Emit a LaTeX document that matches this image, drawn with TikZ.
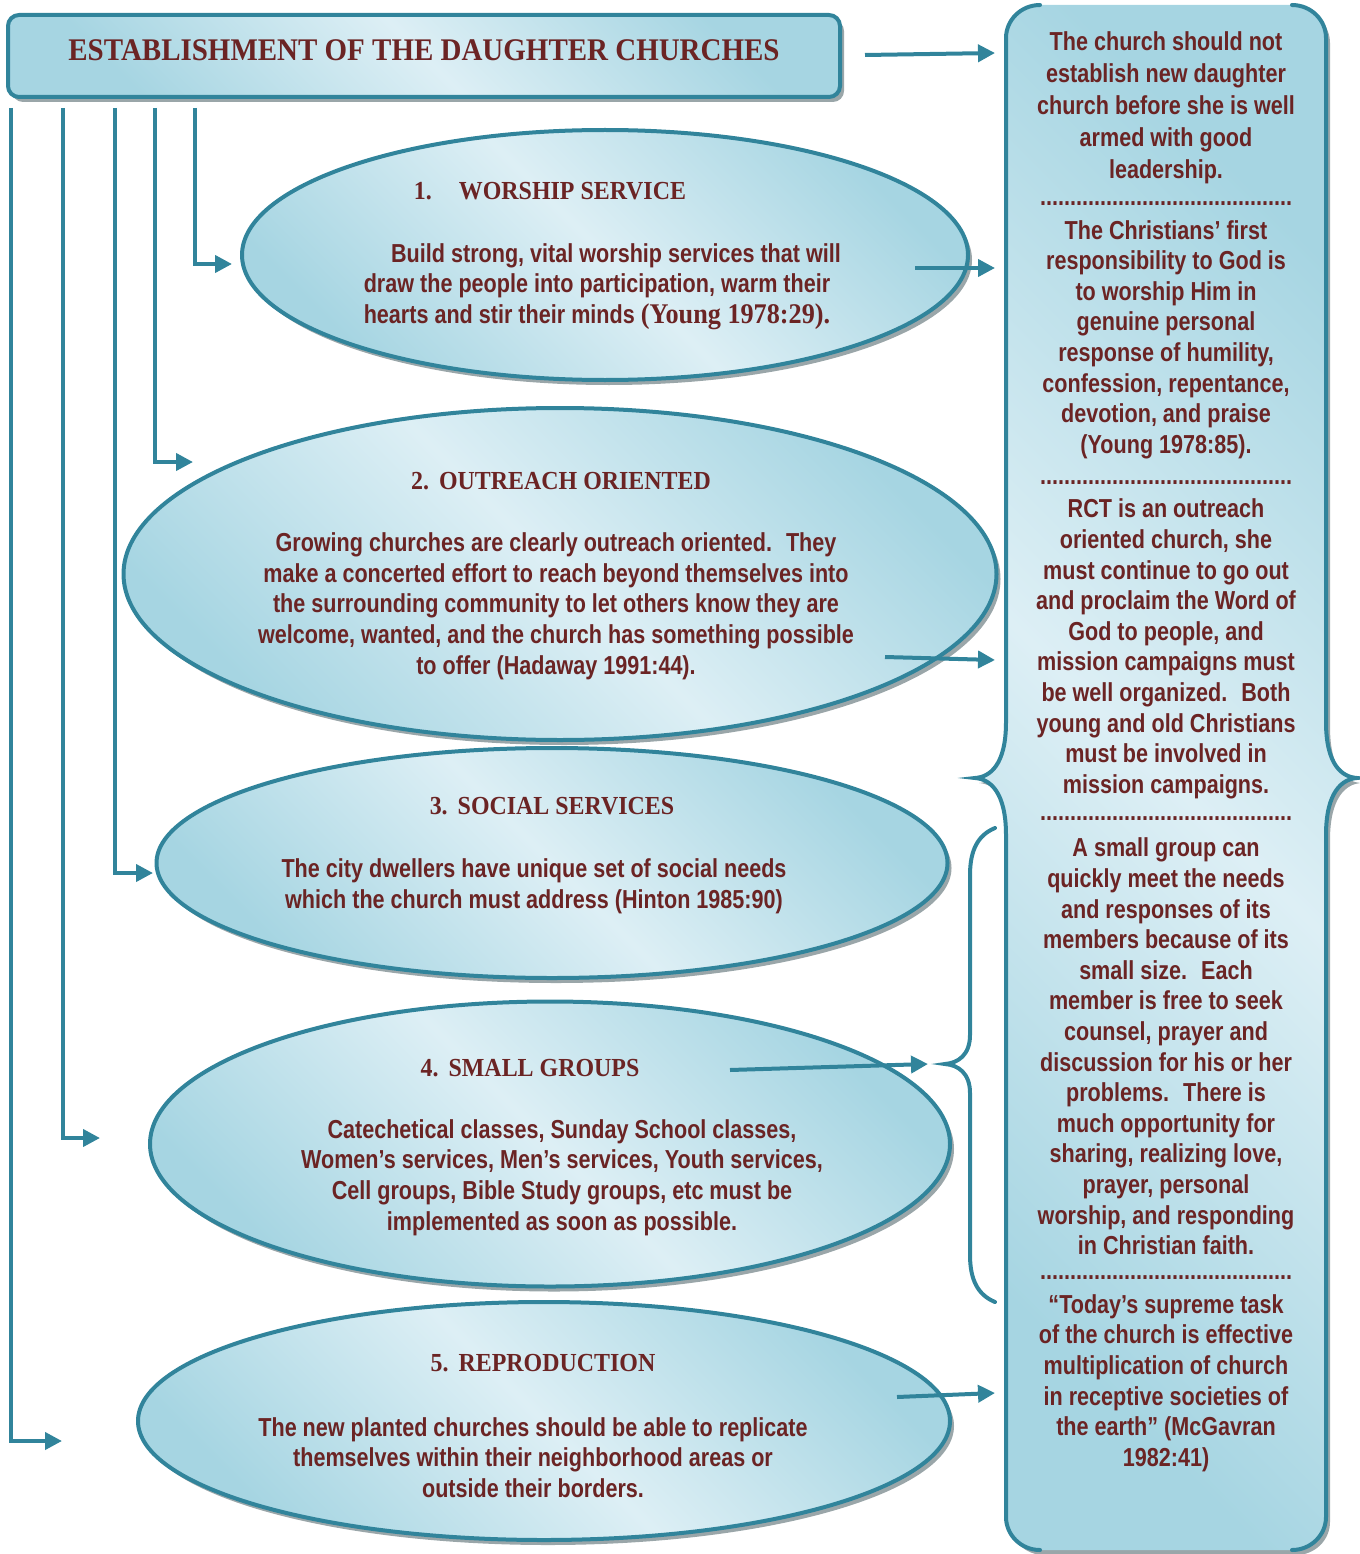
\documentclass[tikz,border=0pt]{standalone}
\usepackage{fontspec}
\setmainfont[FakeStretch=0.83]{Liberation Sans}
\newfontfamily\headfont[FakeStretch=0.92]{Liberation Serif}
\usetikzlibrary{arrows.meta,shapes.geometric,shadows,calc}
\definecolor{tealc}{HTML}{31849B}
\definecolor{lightc}{HTML}{DDEFF5}
\definecolor{midc}{HTML}{A6D5E2}
\definecolor{textc}{HTML}{6B2424}
\definecolor{shadowc}{HTML}{9AA6A9}
\newcommand\dotrow{..........................................}
\tikzset{
  bluefill/.style={shading=axis, top color=midc, bottom color=midc, middle color=lightc, shading angle=-45},
  shad/.style={drop shadow={shadow xshift=4pt, shadow yshift=-5pt, fill=shadowc, opacity=1}},
  ell/.style={ellipse, draw=tealc, line width=4pt, inner sep=0pt, bluefill, shad},
  titlebox/.style={rectangle, rounded corners=11pt, draw=tealc, line width=4pt, inner sep=0pt, bluefill, shad},
  bodytext/.style={align=center, text=textc, inner sep=0pt, font=\bfseries\fontsize{26}{30.7}\selectfont},
  headtext/.style={text=textc, inner sep=0pt, font=\headfont\bfseries\fontsize{26}{30}\selectfont},
  paneltext/.style={align=center, text=textc, inner sep=0pt, font=\bfseries\fontsize{26}{30.6}\selectfont},
  conn/.style={draw=tealc, line width=4pt},
  arr/.style={conn, -{Triangle[length=17pt,width=17pt]}},
  bracestroke/.style={draw=tealc, line width=4pt, line cap=round}
}
\begin{document}
\begin{tikzpicture}[x=1pt,y=1pt]
\useasboundingbox (0,0) rectangle (1359,-1554);

% ---------- right panel ----------
\fill[shadowc, shift={(4,-5)}] (1040,-5) -- (1292,-5) .. controls (1311,-5) and (1326,-20) .. (1326,-38) -- (1326,-722) .. controls (1326,-765) and (1342,-777) .. (1357,-778) .. controls (1342,-779) and (1326,-792) .. (1326,-835) -- (1326,-1517) .. controls (1326,-1535) and (1311,-1550) .. (1292,-1550) -- (1040,-1550) .. controls (1021,-1550) and (1006,-1535) .. (1006,-1517) -- (1006,-835) .. controls (1006,-792) and (990,-779) .. (975,-778) .. controls (990,-777) and (1006,-765) .. (1006,-722) -- (1006,-38) .. controls (1006,-20) and (1021,-5) .. (1040,-5) -- cycle;
\path[bluefill] (1040,-5) -- (1292,-5) .. controls (1311,-5) and (1326,-20) .. (1326,-38) -- (1326,-722) .. controls (1326,-765) and (1342,-777) .. (1357,-778) .. controls (1342,-779) and (1326,-792) .. (1326,-835) -- (1326,-1517) .. controls (1326,-1535) and (1311,-1550) .. (1292,-1550) -- (1040,-1550) .. controls (1021,-1550) and (1006,-1535) .. (1006,-1517) -- (1006,-835) .. controls (1006,-792) and (990,-779) .. (975,-778) .. controls (990,-777) and (1006,-765) .. (1006,-722) -- (1006,-38) .. controls (1006,-20) and (1021,-5) .. (1040,-5) -- cycle;
\draw[bracestroke] (1040,-5) .. controls (1021,-5) and (1006,-20) .. (1006,-38) -- (1006,-722) .. controls (1006,-765) and (990,-777) .. (975,-778) .. controls (990,-779) and (1006,-792) .. (1006,-835) -- (1006,-1517) .. controls (1006,-1535) and (1021,-1550) .. (1040,-1550);
\draw[bracestroke] (1292,-5) .. controls (1311,-5) and (1326,-20) .. (1326,-38) -- (1326,-722) .. controls (1326,-765) and (1342,-777) .. (1357,-778) .. controls (1342,-779) and (1326,-792) .. (1326,-835) -- (1326,-1517) .. controls (1326,-1535) and (1311,-1550) .. (1292,-1550);

\node[paneltext, font=\bfseries\fontsize{26}{32}\selectfont] (p1) at (1166,-107.5) {The church should not\\
establish new daughter\\
church before she is well\\
armed with good\\
leadership.};
\node[paneltext] (d1) at (1166,-204) {\dotrow};
\node[paneltext] (p2) at (1166,-339.5) {The Christians’ first\\
responsibility to God is\\
to worship Him in\\
genuine personal\\
response of humility,\\
confession, repentance,\\
devotion, and praise\\
(Young 1978:85).};
\node[paneltext] (d2) at (1166,-483) {\dotrow};
\node[paneltext] (p3) at (1166,-649) {RCT is an outreach\\
oriented church, she\\
must continue to go out\\
and proclaim the Word of\\
God to people, and\\
mission campaigns must\\
be well organized.~ Both\\
young and old Christians\\
must be involved in\\
mission campaigns.};
\node[paneltext] (d3) at (1166,-819) {\dotrow};
\node[paneltext] (p4) at (1166,-1046.5) {A small group can\\
quickly meet the needs\\
and responses of its\\
members because of its\\
small size.~ Each\\
member is free to seek\\
counsel, prayer and\\
discussion for his or her\\
problems.~ There is\\
much opportunity for\\
sharing, realizing love,\\
prayer, personal\\
worship, and responding\\
in Christian faith.};
\node[paneltext] (d4) at (1166,-1278) {\dotrow};
\node[paneltext] (p5) at (1166,-1383) {“Today’s supreme task\\
of the church is effective\\
multiplication of church\\
in receptive societies of\\
the earth” (McGavran\\
1982:41)};

% ---------- brace for small groups ----------
\draw[bracestroke] (995,-828) .. controls (978,-835) and (970,-850) .. (970,-875) -- (970,-1035) .. controls (970,-1055) and (958,-1063) .. (945,-1064) .. controls (958,-1065) and (970,-1073) .. (970,-1093) -- (970,-1255) .. controls (970,-1280) and (978,-1295) .. (995,-1302);

% ---------- title ----------
\node[titlebox, minimum width=832pt, minimum height=82pt] (title) at (424,-56) {};
\node[headtext, font=\headfont\bfseries\fontsize{31.5}{34}\selectfont] (ttl) at (424,-50) {ESTABLISHMENT OF THE DAUGHTER CHURCHES};

% ---------- ellipses ----------
\node[ell, minimum width=726pt, minimum height=250pt] (e1) at (605,-255) {};
\node[ell, minimum width=873pt, minimum height=332pt] (e2) at (560,-574) {};
\node[ell, minimum width=791pt, minimum height=230pt] (e3) at (552,-863) {};
\node[ell, minimum width=800pt, minimum height=285pt] (e4) at (550,-1144) {};
\node[ell, minimum width=812pt, minimum height=238pt] (e5) at (544,-1421) {};

\node[headtext] (h1) at (550,-191) {1.\hspace{27pt}WORSHIP SERVICE};
\node[bodytext] (b1) at (597,-286.5) {\hspace*{38pt}Build strong, vital worship services that will\\
draw the people into participation, warm their\\
hearts and stir their minds {\headfont\fontsize{28.5}{30.7}\selectfont (Young 1978:29).}};

\node[headtext] (h2) at (561,-481) {2.\hspace{10pt}OUTREACH ORIENTED};
\node[bodytext] (b2) at (556,-606) {Growing churches are clearly outreach oriented.~ They\\
make a concerted effort to reach beyond themselves into\\
the surrounding community to let others know they are\\
welcome, wanted, and the church has something possible\\
to offer (Hadaway 1991:44).};

\node[headtext] (h3) at (552,-806) {3.\hspace{10pt}SOCIAL SERVICES};
\node[bodytext] (b3) at (534,-886) {The city dwellers have unique set of social needs\\
which the church must address (Hinton 1985:90)};

\node[headtext] (h4) at (530,-1068) {4.\hspace{10pt}SMALL GROUPS};
\node[bodytext] (b4) at (562,-1177.5) {Catechetical classes, Sunday School classes,\\
Women’s services, Men’s services, Youth services,\\
Cell groups, Bible Study groups, etc must be\\
implemented as soon as possible.};

\node[headtext] (h5) at (543,-1363) {5.\hspace{10pt}REPRODUCTION};
\node[bodytext] (b5) at (533,-1457.5) {The new planted churches should be able to replicate\\
themselves within their neighborhood areas or\\
outside their borders.};

% ---------- elbow connectors ----------
\coordinate (s1) at (195,-108); \coordinate (t1) at (232,-264);
\coordinate (s2) at (155,-108); \coordinate (t2) at (193,-462);
\coordinate (s3) at (115,-108); \coordinate (t3) at (153,-873);
\coordinate (s4) at (63,-108);  \coordinate (t4) at (100,-1138);
\coordinate (s5) at (11,-108);  \coordinate (t5) at (62,-1441);
\draw[arr] (s1) |- (t1);
\draw[arr] (s2) |- (t2);
\draw[arr] (s3) |- (t3);
\draw[arr] (s4) |- (t4);
\draw[arr] (s5) |- (t5);

% ---------- arrows to panel ----------
\coordinate (a0s) at (865,-55);   \coordinate (a0e) at (995,-53);
\coordinate (a1s) at (915,-268);  \coordinate (a1e) at (995,-268);
\coordinate (a2s) at (885,-657);  \coordinate (a2e) at (995,-660);
\coordinate (a4s) at (730,-1070); \coordinate (a4e) at (928,-1064);
\coordinate (a5s) at (897,-1397); \coordinate (a5e) at (995,-1393);
\draw[arr] (a0s) -- (a0e);
\draw[arr] (a1s) -- (a1e);
\draw[arr] (a2s) -- (a2e);
\draw[arr] (a4s) -- (a4e);
\draw[arr] (a5s) -- (a5e);
\end{tikzpicture}
\end{document}
